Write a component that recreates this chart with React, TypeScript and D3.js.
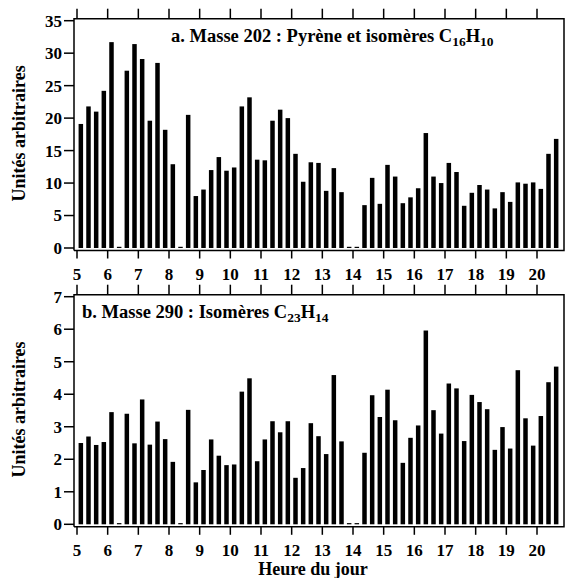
import React from 'react'
import * as d3 from 'd3'

// heures (milieu de chaque quart d'heure)
const heures = [
  5.125, 5.375, 5.625, 5.875, 6.125, 6.375, 6.625, 6.875, 7.125, 7.375,
  7.625, 7.875, 8.125, 8.375, 8.625, 8.875, 9.125, 9.375, 9.625, 9.875,
  10.125, 10.375, 10.625, 10.875, 11.125, 11.375, 11.625, 11.875, 12.125, 12.375,
  12.625, 12.875, 13.125, 13.375, 13.625, 13.875, 14.125, 14.375, 14.625, 14.875,
  15.125, 15.375, 15.625, 15.875, 16.125, 16.375, 16.625, 16.875, 17.125, 17.375,
  17.625, 17.875, 18.125, 18.375, 18.625, 18.875, 19.125, 19.375, 19.625, 19.875,
  20.125, 20.375, 20.625
]

const masse202 = [
  19.1, 21.8, 21.0, 24.2, 31.7, 0, 27.3, 31.4, 29.1, 19.6,
  28.5, 18.2, 12.9, 0, 20.5, 8.0, 9.0, 12.0, 14.0, 11.9,
  12.4, 21.8, 23.2, 13.6, 13.5, 19.6, 21.3, 20.0, 14.5, 10.2,
  13.2, 13.1, 8.8, 12.3, 8.6, 0, 0, 6.6, 10.8, 6.8,
  12.8, 11.0, 6.9, 7.8, 9.2, 17.7, 11.0, 10.0, 13.1, 11.7,
  6.5, 8.5, 9.7, 9.0, 6.1, 8.6, 7.1, 10.1, 9.9, 10.1,
  9.1, 14.5, 16.8
]

const masse290 = [
  2.5, 2.7, 2.44, 2.53, 3.45, 0, 3.4, 2.49, 3.84, 2.45,
  3.16, 2.62, 1.92, 0, 3.52, 1.29, 1.67, 2.61, 2.11, 1.82,
  1.84, 4.08, 4.49, 1.94, 2.61, 3.17, 2.83, 3.17, 1.43, 1.73,
  3.11, 2.71, 2.16, 4.59, 2.55, 0, 0, 2.2, 3.97, 3.3,
  4.14, 3.2, 1.89, 2.66, 3.04, 5.96, 3.51, 2.79, 4.33, 4.18,
  2.56, 3.98, 3.76, 3.54, 2.29, 2.99, 2.33, 4.74, 3.26, 2.42,
  3.33, 4.37, 4.85
]

const xTicks = [5, 6, 7, 8, 9, 10, 11, 12, 13, 14, 15, 16, 17, 18, 19, 20]
const yTicksA = [0, 5, 10, 15, 20, 25, 30, 35]
const yTicksB = [0, 1, 2, 3, 4, 5, 6, 7]

const font = '"Liberation Serif", "Times New Roman", serif'
const left = 74
const right = 564
const barW = 4.5

const x = d3.scaleLinear().domain([5, 20]).range([77, 537])

function Panel({ values, ticks, yMax, y0, yTop, title, sub1, sub2, tx, ty }) {
  const y = d3.scaleLinear().domain([0, yMax]).range([y0, yTop])
  const frameTop = y(yMax) - 2
  const axisY = y0 + 2.5
  return (
    <g>
      {values.map((v, i) => {
        const h = Math.max(1.2, y(0) - y(v))
        return (
          <rect key={i} x={x(heures[i]) - barW / 2} y={y(0) - h} width={barW} height={h} fill="#000" />
        )
      })}
      <path
        d={`M${left},${axisY}V${frameTop}H${right}V${axisY}H${left}`}
        fill="none" stroke="#000" strokeWidth={1.5}
      />
      {xTicks.map(t => (
        <g key={t}>
          <line x1={x(t)} x2={x(t)} y1={axisY} y2={axisY + 8} stroke="#000" strokeWidth={1.5} />
          <line x1={x(t)} x2={x(t)} y1={frameTop} y2={frameTop - 10} stroke="#000" strokeWidth={1.5} />
          <text x={x(t)} y={y0 + 32} textAnchor="middle" fontSize={17} fontWeight="bold" fontFamily={font}>{t}</text>
        </g>
      ))}
      {ticks.map(t => (
        <g key={t}>
          <line x1={left - 10} x2={left} y1={y(t)} y2={y(t)} stroke="#000" strokeWidth={1.5} />
          <text x={left - 12} y={y(t)} dy="0.35em" textAnchor="end" fontSize={17} fontWeight="bold" fontFamily={font}>{t}</text>
        </g>
      ))}
      <text x={tx} y={ty} fontSize={18.5} fontWeight="bold" fontFamily={font}>
        {title}
        <tspan fontSize={13.5} dy={4}>{sub1}</tspan>
        <tspan fontSize={18.5} dy={-4}>H</tspan>
        <tspan fontSize={13.5} dy={4}>{sub2}</tspan>
      </text>
      <text
        transform={`translate(25,${(y0 + frameTop) / 2}) rotate(-90)`}
        textAnchor="middle" fontSize={18} fontWeight="bold" fontFamily={font}
      >Unités arbitraires</text>
    </g>
  )
}

export default function App() {
  return (
    <svg width={565} height={578} style={{ position: 'absolute', left: 0, top: 0, background: '#fff' }}>
      <Panel values={masse202} ticks={yTicksA} yMax={35} y0={248} yTop={20.7}
        title="a. Masse 202 : Pyrène et isomères C" sub1="16" sub2="10" tx={171} ty={42} />
      <Panel values={masse290} ticks={yTicksB} yMax={7} y0={524.3} yTop={296.7}
        title="b. Masse 290 : Isomères C" sub1="23" sub2="14" tx={82} ty={318} />
      <text x={313} y={575} textAnchor="middle" fontSize={18} fontWeight="bold" fontFamily={font}>Heure du jour</text>
    </svg>
  )
}
